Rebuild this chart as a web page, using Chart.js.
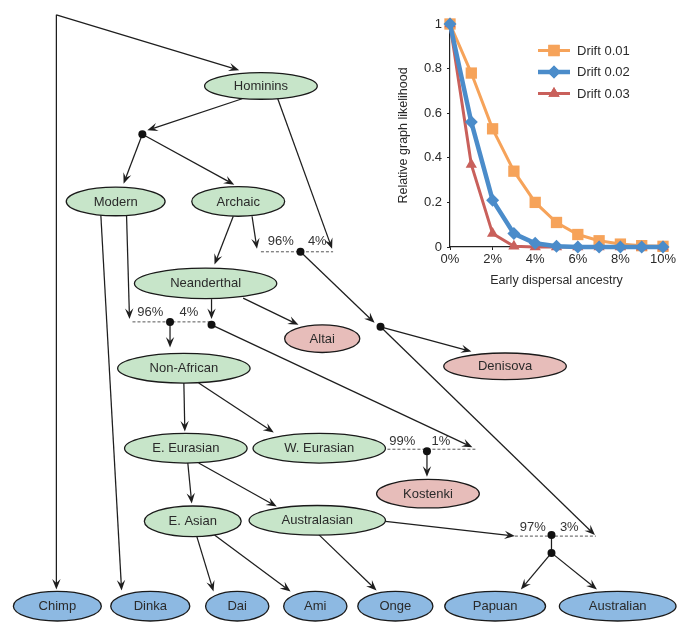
<!DOCTYPE html>
<html><head><meta charset="utf-8">
<script src="https://cdn.jsdelivr.net/npm/chart.js@4.4.0/dist/chart.umd.min.js"></script>
<style>
html,body{margin:0;padding:0;background:#fff;}
#wrap{position:relative;width:680px;height:625px;overflow:hidden;background:#fff;}
#tree{position:absolute;left:0;top:0;}
#inset{position:absolute;left:385px;top:0;}
</style></head><body>
<div id="wrap">
<canvas id="tree" width="680" height="625"></canvas>
<canvas id="inset" width="295" height="300"></canvas>
</div>
<script>
// ================= Inset chart data =================
const ancestryPct = [0, 1, 2, 3, 4, 5, 6, 7, 8, 9, 10];
const drift001 = [1, 0.78, 0.53, 0.34, 0.20, 0.11, 0.056, 0.028, 0.013, 0.006, 0.003];
const drift002 = [1, 0.56, 0.21, 0.06, 0.017, 0.003, 0, 0, 0, 0, 0];
const drift003 = [1, 0.37, 0.06, 0.003, 0, 0, 0, 0, 0, 0, 0];
const seriesLabels = ['Drift 0.01', 'Drift 0.02', 'Drift 0.03'];
const yAxisTitle = 'Relative graph likelihood';
const xAxisTitle = 'Early dispersal ancestry';

// ================= Tree data =================
const nodeNames = ['Hominins', 'Modern', 'Archaic', 'Neanderthal', 'Altai', 'Non-African', 'Denisova',
  'E. Eurasian', 'W. Eurasian', 'Kostenki', 'E. Asian', 'Australasian',
  'Chimp', 'Dinka', 'Dai', 'Ami', 'Onge', 'Papuan', 'Australian'];
const nodeKind = ['g', 'g', 'g', 'g', 'p', 'g', 'p', 'g', 'g', 'p', 'g', 'g', 'b', 'b', 'b', 'b', 'b', 'b', 'b'];
const admixLabels = [['96%', '4%'], ['96%', '4%'], ['99%', '1%'], ['97%', '3%']];

// ================= Tree layout (diagram units) =================
const nodeX = [260, 113, 237, 204, 322, 182, 507, 184, 319, 429, 191, 317, 54, 148, 236, 315, 396, 497, 621];
const nodeY = [83, 200, 200, 283, 339, 369, 367, 450, 450, 496, 524, 523, 610, 610, 610, 610, 610, 610, 610];
const nodeRX = [57, 50, 47, 72, 38, 67, 62, 62, 67, 52, 49, 69, 44.5, 40, 32, 32, 38, 51, 59];
const nodeRY = [13.5, 14.5, 15, 15.5, 14, 15, 13.5, 15, 15, 14.5, 15.5, 15, 15, 15, 15, 15, 15, 15, 15];
const junctionX = [140, 300, 168, 210, 381, 428, 554, 554];
const junctionY = [132, 251, 322, 325, 327, 453, 538, 556];
// admixture bars: [x0, x1, y, label1x, label2x, labelY]
const admixBars = [
  [260, 333, 251, 280, 317, 241],
  [130, 211, 322, 148, 187, 312],
  [388, 477, 451, 403, 442, 443],
  [517, 599, 539, 535, 572, 530]
];
// edges: [x1, y1, x2, y2, arrow]
const edges = [
  [53, 11, 53, 593, 1],
  [53, 11, 238, 67, 1],
  [241, 96, 145, 128, 1],
  [140, 132, 121, 182, 1],
  [140, 132, 233, 183, 1],
  [277, 96, 332, 248, 1],
  [232, 215, 213, 264, 1],
  [251, 215, 256, 248, 1],
  [300, 251, 375, 323, 1],
  [381, 327, 473, 352, 1],
  [381, 327, 598, 538, 1],
  [98, 214, 119, 594, 1],
  [124, 214, 127, 319, 1],
  [210, 299, 210, 319, 1],
  [242, 298, 298, 325, 1],
  [168, 322, 168, 348, 1],
  [210, 325, 474, 449, 1],
  [182, 384, 183, 433, 1],
  [197, 384, 273, 434, 1],
  [428, 453, 428, 479, 1],
  [186, 465, 190, 506, 1],
  [197, 465, 276, 509, 1],
  [386, 524, 517, 539, 1],
  [554, 538, 554, 556, 0],
  [554, 556, 523, 593, 1],
  [554, 556, 600, 593, 1],
  [195, 539, 212, 595, 1],
  [213, 538, 290, 595, 1],
  [318, 537, 377, 594, 1]
];
const kindFill = {g: '#c7e5c9', p: '#e7bdba', b: '#8db9e2'};
const FONT = '"Liberation Sans", Arial, Helvetica, sans-serif';

function drawArrow(ctx, x1, y1, x2, y2, arrow) {
  const dx = x2 - x1, dy = y2 - y1, len = Math.hypot(dx, dy);
  const ux = dx / len, uy = dy / len;
  const L = 10.5, W = 4.2;
  const endX = arrow ? x2 - ux * L * 0.6 : x2, endY = arrow ? y2 - uy * L * 0.6 : y2;
  ctx.beginPath(); ctx.moveTo(x1, y1); ctx.lineTo(endX, endY); ctx.stroke();
  if (arrow) {
    ctx.beginPath();
    ctx.moveTo(x2, y2);
    ctx.lineTo(x2 - ux * L - uy * W, y2 - uy * L + ux * W);
    ctx.lineTo(x2 - ux * L * 0.62, y2 - uy * L * 0.62);
    ctx.lineTo(x2 - ux * L + uy * W, y2 - uy * L - ux * W);
    ctx.closePath(); ctx.fill();
  }
}

const treePlugin = {
  id: 'treePlugin',
  beforeDatasetsDraw(chart) {
    const {ctx, scales: {x, y}} = chart;
    const px = v => x.getPixelForValue(v), py = v => y.getPixelForValue(v);
    ctx.save();
    ctx.strokeStyle = '#555'; ctx.lineWidth = 1; ctx.setLineDash([3, 2]);
    admixBars.forEach(b => { ctx.beginPath(); ctx.moveTo(px(b[0]), py(b[2])); ctx.lineTo(px(b[1]), py(b[2])); ctx.stroke(); });
    ctx.setLineDash([]);
    ctx.strokeStyle = '#1e1e1e'; ctx.fillStyle = '#1e1e1e'; ctx.lineWidth = 1.25;
    edges.forEach(e => drawArrow(ctx, px(e[0]), py(e[1]), px(e[2]), py(e[3]), e[4]));
    ctx.restore();
  },
  afterDatasetsDraw(chart) {
    const {ctx, scales: {x, y}} = chart;
    const px = v => x.getPixelForValue(v), py = v => y.getPixelForValue(v);
    ctx.save();
    nodeNames.forEach((name, i) => {
      const cx = px(nodeX[i]), cy = py(nodeY[i]);
      const rx = Math.abs(px(nodeX[i] + nodeRX[i]) - cx), ry = Math.abs(py(nodeY[i] + nodeRY[i]) - cy);
      ctx.beginPath(); ctx.ellipse(cx, cy, rx, ry, 0, 0, Math.PI * 2);
      ctx.fillStyle = kindFill[nodeKind[i]]; ctx.fill();
      ctx.lineWidth = 1.3; ctx.strokeStyle = '#1a1a1a'; ctx.stroke();
      ctx.fillStyle = '#2a2a2a'; ctx.font = '13px ' + FONT;
      ctx.textAlign = 'center'; ctx.textBaseline = 'middle';
      ctx.fillText(name, cx, cy + 0.5);
    });
    ctx.fillStyle = '#333'; ctx.font = '13px ' + FONT; ctx.textAlign = 'center'; ctx.textBaseline = 'middle';
    admixBars.forEach((b, i) => {
      ctx.fillText(admixLabels[i][0], px(b[3]), py(b[5]));
      ctx.fillText(admixLabels[i][1], px(b[4]), py(b[5]));
    });
    ctx.restore();
  }
};

new Chart(document.getElementById('tree'), {
  type: 'scatter',
  data: {
    datasets: [{
      data: junctionX.map((v, i) => ({x: v, y: junctionY[i]})),
      pointRadius: 4, pointBackgroundColor: '#111', pointBorderWidth: 0, clip: false
    }]
  },
  options: {
    responsive: false, animation: false, events: [],
    layout: {padding: 0},
    plugins: {legend: {display: false}, tooltip: {enabled: false}},
    scales: {
      x: {type: 'linear', min: 0, max: 680, display: false},
      y: {type: 'linear', min: 0, max: 625, reverse: true, display: false}
    }
  },
  plugins: [treePlugin]
});

// ================= Inset chart =================
const seriesColors = ['#f6a35a', '#4b8cca', '#c9605b'];
const seriesStyles = ['rect', 'rectRot', 'triangle'];
const seriesRadius = [8, 6.5, 6.5];
const seriesWidth = [3, 4.5, 3];

const legendPlugin = {
  id: 'insetLegend',
  afterDraw(chart) {
    const {ctx, chartArea} = chart;
    ctx.save();
    chart.data.datasets.forEach((ds, i) => {
      const yy = chartArea.top + 26.5 + i * 21.5;
      const x0 = chartArea.left + 88, x1 = chartArea.left + 120;
      ctx.strokeStyle = ds.borderColor; ctx.lineWidth = ds.borderWidth;
      ctx.beginPath(); ctx.moveTo(x0, yy); ctx.lineTo(x1, yy); ctx.stroke();
      ctx.fillStyle = ds.borderColor;
      Chart.helpers.drawPoint(ctx, {pointStyle: ds.pointStyle, radius: ds.pointRadius, borderWidth: 0, rotation: 0}, (x0 + x1) / 2, yy);
      ctx.fill();
      ctx.fillStyle = '#2a2a2a'; ctx.font = '13px ' + FONT; ctx.textAlign = 'left'; ctx.textBaseline = 'middle';
      ctx.fillText(ds.label, x1 + 7, yy + 0.5);
    });
    ctx.restore();
  }
};

const seriesData = [drift001, drift002, drift003];
new Chart(document.getElementById('inset'), {
  type: 'line',
  data: {
    datasets: seriesData.map((arr, i) => ({
      label: seriesLabels[i],
      data: ancestryPct.map((p, j) => ({x: p, y: arr[j]})),
      borderColor: seriesColors[i], backgroundColor: seriesColors[i],
      pointBackgroundColor: seriesColors[i], pointBorderColor: seriesColors[i],
      borderWidth: seriesWidth[i], pointStyle: seriesStyles[i], pointRadius: seriesRadius[i],
      pointBorderWidth: 0, tension: 0, clip: false, order: [2, 0, 1][i]
    }))
  },
  options: {
    responsive: false, animation: false, events: [],
    layout: {padding: {top: 24, right: 17, bottom: 0, left: 0}},
    plugins: {legend: {display: false}, tooltip: {enabled: false}},
    scales: {
      x: {
        type: 'linear', min: 0, max: 10,
        afterFit(s) { s.height = 53; },
        grid: {display: true, drawOnChartArea: false, drawTicks: true, tickLength: 3, color: '#222'},
        border: {display: true, color: '#222', width: 1.2},
        ticks: {stepSize: 2, padding: 2, color: '#2a2a2a', font: {family: FONT, size: 13}, callback: v => v + '%', maxRotation: 0},
        title: {display: true, text: xAxisTitle, color: '#2a2a2a', font: {family: FONT, size: 12.5}, padding: {top: 0, bottom: 12}}
      },
      y: {
        type: 'linear', min: 0, max: 1,
        afterFit(s) { s.width = 65; },
        grid: {display: true, drawOnChartArea: false, drawTicks: true, tickLength: 3, color: '#222'},
        border: {display: true, color: '#222', width: 1.2},
        ticks: {stepSize: 0.2, padding: 5, color: '#2a2a2a', font: {family: FONT, size: 13},
          callback: v => String(Number(v.toFixed(1)))},
        title: {display: true, text: yAxisTitle, color: '#2a2a2a', font: {family: FONT, size: 12.5}, padding: {top: 11, bottom: 0}}
      }
    }
  },
  plugins: [legendPlugin]
});
</script>
</body></html>
